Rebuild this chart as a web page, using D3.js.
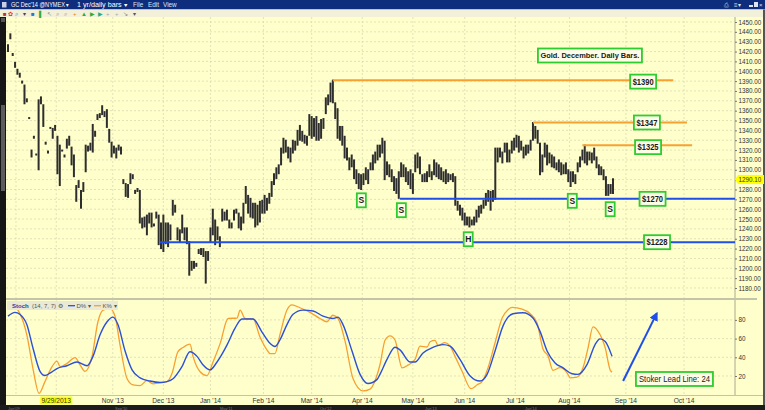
<!DOCTYPE html>
<html><head><meta charset="utf-8">
<script src="https://cdn.jsdelivr.net/npm/d3@7/dist/d3.min.js"></script>
<style>body{margin:0;background:#fff;} svg{display:block;font-family:"Liberation Sans",Arial,sans-serif;}</style>
</head><body><svg id="c" width="765" height="410"></svg>
<script>
// ---------------- DATA ----------------
const highs=[1427,1438,1418,1409,1402,1398,1390,1386,1372,1353,
1320,1334,1316,1371,1374,1366,1328,1319,1343,1342,
1345,1334,1325,1320,1315,1331,1334,1323,1315,1284,
1289,1279,1287,1325,1324,1327,1346,1339,1356,1357,
1365,1359,1361,1341,1328,1324,1322,1325,1323,1290,
1286,
1285,1296,1295,1279,1281,1279,1251,1252,1254,1256,
1256,1245,1257,1254,1246,1254,1246,1246,1244,1269,
1264,1241,1239,1254,1241,1241,1227,1207,1207,1205,
1219,1220,1220,1217,1217,1241,1260,1249,1242,1232,
1260,1257,1259,1249,1246,1259,1260,1256,1252,1266,
1283,1274,1271,1266,1266,1264,1268,1269,1274,1271,
1276,1288,1296,1302,1305,1322,1332,1330,1323,1322,
1330,1329,1340,1345,1339,1335,1334,1356,1354,1352,
1354,1347,1351,1352,1373,1376,1388,1391,1368,1362,
1344,1344,1334,1322,1312,1315,1310,1300,1296,1295,
1296,1302,1300,1307,1315,
1318,1325,1325,1332,1329,1308,1305,1300,1293,1291,
1298,1307,1305,1302,1298,1300,1296,1315,1317,1313,
1295,1296,1298,1305,1298,1310,1307,1305,1302,1298,
1300,1296,1295,1296,1293,1268,1264,1261,1256,1252,
1252,1249,1252,1259,1263,1264,1269,1276,1279,1278,
1279,1322,
1322,1322,1318,1327,1327,1320,1329,1332,1335,1334,
1329,1323,1325,1325,1330,1348,1344,1340,1327,1315,
1327,1325,1317,1315,1313,1307,1310,1307,1305,1307,
1300,1298,1298,1295,1307,1313,1320,1325,1318,1318,
1317,1322,1313,1305,1303,1300,1293,1285,1285,1291];
const lows=[1420,1433,1416,1404,1397,1394,1388,1367,1369,1352,
1313,1332,1315,1300,1367,1344,1326,1317,1342,1332,
1340,1296,1284,1319,1313,1322,1325,1305,1293,1268,
1282,1261,1278,1298,1319,1320,1318,1334,1351,1353,
1356,1354,1343,1328,1313,1317,1312,1320,1316,1286,
1273,
1272,1286,1291,1276,1278,1246,1241,1242,1234,1246,
1242,1243,1251,1224,1220,1217,1225,1222,1229,1254,
1257,1229,1227,1236,1229,1225,1193,1198,1200,1202,
1215,1214,1212,1185,1208,1227,1234,1224,1229,1222,
1248,1249,1249,1241,1241,1249,1256,1241,1239,1246,
1266,1256,1252,1251,1242,1244,1247,1256,1256,1259,
1266,1273,1285,1291,1296,1305,1317,1318,1312,1308,
1317,1320,1325,1330,1329,1327,1325,1335,1332,1334,
1330,1330,1332,1342,1357,1366,1369,1368,1352,1332,
1330,1325,1312,1310,1300,1303,1291,1286,1281,1280,
1285,1290,1286,1300,1300,
1307,1310,1313,1317,1290,1295,1293,1288,1279,1276,
1271,1293,1293,1288,1285,1281,1276,1298,1302,1296,
1288,1288,1288,1293,1290,1295,1293,1291,1290,1288,
1286,1288,1290,1288,1264,1259,1254,1249,1244,1244,
1242,1244,1244,1247,1252,1256,1261,1264,1268,1259,
1268,1270,
1308,1313,1307,1318,1308,1308,1317,1320,1323,1318,
1320,1312,1315,1317,1320,1330,1332,1327,1295,1298,
1313,1305,1307,1303,1302,1300,1298,1295,1296,1296,
1288,1283,1288,1286,1298,1303,1310,1307,1305,1310,
1307,1310,1302,1295,1295,1290,1274,1274,1276,1276];
const lastClose=1290.10;

const priceTicks=d3.range(1180,1451,10);
const monthIdx=[20.5,44.5,66,86,108.5,129,150.5,172,194,215.5,238.5,262.5,287.2];
const monthLabels=["9/29/2013","Nov '13","Dec '13","Jan '14","Feb '14","Mar '14","Apr '14","May '14","Jun '14","Jul '14","Aug '14","Sep '14","Oct '14"];

// Stochastic (14,7,7): bar position and value
const dIdx=[0,3,5,8,10.6,13.6,15.7,17.8,20.8,25,29.3,33.6,36.1,39.1,42.1,44.6,46.7,49.7,52.7,56.1,60.3,64.6,67.5,70.1,73.9,77.3,80.3,82.8,85.8,88.8,93,96.4,99.4,104.1,107.9,111.3,113.4,115.5,118.5,121.1,125.3,129.6,133.8,138,140.2,142.3,146.1,149.5,152.9,156.8,158,161,164.4,166.5,170.8,172.9,176.3,180.5,184.8,187.8,192,196.3,200.5,203.5,206.9,210.3,214.5,218.8,223,226,229,232.4,235.8,239.6,242.1,246,249.4,251.5,253.7,256.6];
const dVal=[84,88,86,75,50,25,20.5,23,28,31,35,31,41,64,78,83,75,47,26.5,18,14.6,13,14,17,30,46,41,32,26.5,35,53,71,81,81,67,55,51.5,58.5,75,86,90.5,89.5,84,81.5,83,75,47,22,12,16.4,21.7,37.7,50.7,48,35,35,44.6,50.7,53.6,52,37.7,20,14.6,21.7,46.8,73.6,86.6,87.7,82,67.7,46.8,34,28.7,22.4,21.7,32.4,53.6,59.7,57,41];
const kIdx=[0,3,5,8,10.6,13.2,15.7,18.7,20.8,22.1,25.1,28.5,30.6,32.7,35.7,38.2,40.4,43.3,45.5,47.6,50.6,53.1,56.1,59,61.6,64.6,67.5,69.7,72.2,74.3,77.3,78.6,81.6,84.5,87.1,90.1,93.5,97.3,98.6,100.7,104.1,107,110,111.3,113.4,115.5,118.5,120.6,124,128.3,132.5,135.5,138,140.2,143.2,146.6,150.8,153.8,157.2,158,160.2,162.3,164.4,167.4,169.9,172.9,175,178,179.3,181.4,182.7,185.6,187.8,189.9,192.9,196.7,199.3,201.4,203.9,206.9,209.9,212.4,214.1,218.4,221.8,224.7,227.3,229.4,231.5,234.5,237.5,238.8,241.7,244.3,246.4,248.5,250.6,253.7,255.8,256.6];
const kVal=[94,93,87,64,28,1.5,14,30,36,30,33.5,39.6,32,25,41,78,90.5,92,83.7,53,17,10.5,9.8,15,11.5,13,14,23,46,50.4,54,41,24.6,20.5,35,54.6,81.5,82,90.5,81.5,81,62,48,44,44,64,90.5,96,93,88,81.5,78,85,81.5,57,17,4,6,24.6,32,58.5,63,58.5,28.7,31.6,37.7,52,51,56.6,58,52.7,55.6,52,41,25,6.4,10.6,14,28.7,55.6,82,90.8,93.3,91.5,86.6,77,48.6,41.5,26.1,29,23.4,18,18.8,29,50,72.5,68,50,26.5,24];
const stochTicks=[20,40,60,80];

// Annotation levels
const resLevels=[1391,1348,1325];           // orange resistance lines
const resFrom=[138,223,244], resTo=[282.6,288.4,290.6];
const resLabels=["$1390","$1347","$1325"], resLabelIdx=[269.8,271.4,271.9];
const supLevels=[1270.5,1226.5];            // blue support lines
const supFrom=[166.5,64.6];
const supLabels=["$1270","$1228"], supLabelIdx=[273.8,275.7];
const markLabels=["S","S","H","S","S"];
const markIdx=[150.1,167.1,195.5,239.7,255.8];
const markPrice=[1269,1259,1229.5,1268.5,1260];

// ---------------- DRAW ----------------
const W=765,H=410;
const svg=d3.select('#c');
const x=d3.scaleLinear().domain([0,highs.length-1]).range([8,613]);
const y=d3.scaleLinear().domain([1180,1450]).range([288,22]);
const ys=d3.scaleLinear().domain([0,100]).range([394.7,301.2]);
const BG='#FFFFCC', GRID='#d6d6b0';
const PL=6, PR=735;

svg.append('rect').attr('width',W).attr('height',H).attr('fill',BG);

const defs=svg.append('defs');
defs.append('clipPath').attr('id','cp').append('rect').attr('x',PL).attr('y',17).attr('width',PR-PL).attr('height',281);
defs.append('clipPath').attr('id','cs').append('rect').attr('x',PL).attr('y',300).attr('width',PR-PL).attr('height',95);
defs.append('marker').attr('id','ah').attr('viewBox','0 0 10 10').attr('refX',8).attr('refY',5)
  .attr('markerWidth',4.5).attr('markerHeight',4.5).attr('orient','auto')
  .append('path').attr('d','M0,0L10,5L0,10z').attr('fill','#1f4fe8');

// ---- title bar ----
svg.append('rect').attr('x',0).attr('y',0).attr('width',W).attr('height',9.5).attr('fill','#0e2d7c');
svg.append('rect').attr('x',2).attr('y',2).attr('width',4.5).attr('height',5.5).attr('fill','#c8d0e8');
const tb=svg.append('g').attr('fill','#fff').attr('font-size',6.4);
tb.append('text').attr('x',11).attr('y',7.4).attr('textLength',58).attr('lengthAdjust','spacingAndGlyphs').text("GC Dec'14 @NYMEX \u25BE");
tb.append('text').attr('x',77).attr('y',7.4).attr('textLength',50).attr('lengthAdjust','spacingAndGlyphs').text("1 yr/daily bars \u25BE");
[["File",133],["Edit",148],["View",163]].forEach(d=>tb.append('text').attr('x',d[1]).attr('y',7.4).attr('fill','#dfe4f2').text(d[0]));
const ri=svg.append('g').attr('fill','#dfe4f2').attr('font-size',6);
ri.append('text').attr('x',724).attr('y',7).text('\u2399');
ri.append('text').attr('x',734).attr('y',7).text('\u2261\u25BE');
ri.append('rect').attr('x',749).attr('y',5).attr('width',4).attr('height',2);
ri.append('rect').attr('x',754).attr('y',2).attr('width',4).attr('height',5);
ri.append('text').attr('x',759).attr('y',7).text('\u00D7');

// ---- toolbar ----
svg.append('rect').attr('x',0).attr('y',9.5).attr('width',W).attr('height',7.5).attr('fill','#f2f0d8');
const tools=[[3,'\u25A0','#b33'],[8,'\u273F','#d33'],[15,'\u2315','#36c'],[23,'\u25BE','#444'],[31,'\u25A0','#27c'],[39,'\u258C','#3a3'],[47,'\u2196','#888'],[56,'\u2315','#888'],[64,'\u2315','#888'],[73,'+','#e80'],[81,'\u25B2','#3a3'],[90,'\u25B6','#3a3'],[98,'\u25B6','#2a8'],[106,'+','#aaa'],[115,'+','#aaa'],[123,'\u2198','#777'],[133,'\u25BE','#555']];
svg.append('g').attr('font-size',6).selectAll('text').data(tools).join('text')
  .attr('x',d=>d[0]).attr('y',15.6).attr('fill',d=>d[2]).text(d=>d[1]);

// ---- left scroll strip / right border / bottom strip ----
svg.append('rect').attr('x',0).attr('y',17).attr('width',6).attr('height',388).attr('fill','#161616');
svg.append('rect').attr('x',1).attr('y',18).attr('width',4).attr('height',4).attr('fill','#555');
svg.append('rect').attr('x',1).attr('y',105).attr('width',4).attr('height',86).attr('fill','#5c5c5c');
svg.append('rect').attr('x',763).attr('y',9.5).attr('width',2).attr('height',400).attr('fill','#555');
svg.append('rect').attr('x',0).attr('y',405).attr('width',W).attr('height',5).attr('fill','#1c1c1c');
svg.append('g').attr('font-size',4).attr('fill','#777').selectAll('text')
  .data([["Jan'09",8],["Sep'10",115],["May'11",220],["Oct'12",320],["Jun'13",425],["Jan'14",525]]).join('text')
  .attr('x',d=>d[1]).attr('y',409.5).text(d=>d[0]);

// ---- panel separators ----
svg.append('line').attr('x1',PR).attr('x2',PR).attr('y1',17).attr('y2',395).attr('stroke','#a8a890');
svg.append('rect').attr('x',PL).attr('y',298).attr('width',757-PL).attr('height',2).attr('fill','#c4c4a8');
svg.append('line').attr('x1',PL).attr('x2',763).attr('y1',395.5).attr('y2',395.5).attr('stroke','#c4c4a8');

// ---- grids ----
const gp=svg.append('g').attr('clip-path','url(#cp)');
gp.selectAll('line.h').data(priceTicks).join('line').attr('class','h')
  .attr('x1',PL).attr('x2',PR).attr('y1',d=>y(d)).attr('y2',d=>y(d))
  .attr('stroke',GRID).attr('stroke-width',0.7).attr('stroke-dasharray','2,2');
const vgrid=[3.4].concat(monthIdx);
gp.selectAll('line.v').data(vgrid).join('line').attr('class','v')
  .attr('x1',d=>x(d)).attr('x2',d=>x(d)).attr('y1',17).attr('y2',298)
  .attr('stroke',GRID).attr('stroke-width',0.7).attr('stroke-dasharray','2,2');
const gs=svg.append('g').attr('clip-path','url(#cs)');
gs.selectAll('line.h').data(stochTicks).join('line').attr('class','h')
  .attr('x1',PL).attr('x2',PR).attr('y1',d=>ys(d)).attr('y2',d=>ys(d))
  .attr('stroke',GRID).attr('stroke-width',0.7).attr('stroke-dasharray','2,2');
gs.selectAll('line.v').data(vgrid).join('line').attr('class','v')
  .attr('x1',d=>x(d)).attr('x2',d=>x(d)).attr('y1',300).attr('y2',395)
  .attr('stroke',GRID).attr('stroke-width',0.7).attr('stroke-dasharray','2,2');

// ---- price bars ----
gp.append('g').selectAll('line').data(highs).join('line')
  .attr('x1',(d,i)=>x(i)).attr('x2',(d,i)=>x(i))
  .attr('y1',d=>y(d)-0.5).attr('y2',(d,i)=>y(lows[i])+0.5)
  .attr('stroke','#2e2e2e').attr('stroke-width',2);

// ---- resistance / support lines ----
gp.selectAll('line.res').data(resLevels).join('line').attr('class','res')
  .attr('x1',(d,i)=>x(resFrom[i])).attr('x2',(d,i)=>x(resTo[i]))
  .attr('y1',d=>y(d)).attr('y2',d=>y(d)).attr('stroke','#f8a030').attr('stroke-width',2);
gp.selectAll('line.sup').data(supLevels).join('line').attr('class','sup')
  .attr('x1',(d,i)=>x(supFrom[i])).attr('x2',PR)
  .attr('y1',d=>y(d)).attr('y2',d=>y(d)).attr('stroke','#1f4fe8').attr('stroke-width',2);

// ---- boxes ----
function box(g,cx,cy,w,h,txt,fs,bold,tl){
  const gg=g.append('g');
  gg.append('rect').attr('x',cx-w/2).attr('y',cy-h/2).attr('width',w).attr('height',h)
    .attr('fill','#fdfde6').attr('stroke','#2ecc2e').attr('stroke-width',1.8);
  const t=gg.append('text').attr('x',cx).attr('y',cy+fs*0.36).attr('text-anchor','middle')
    .attr('font-size',fs).attr('font-weight',bold?'bold':'normal').attr('fill','#1a1a1a').text(txt);
  if(tl) t.attr('textLength',tl).attr('lengthAdjust','spacingAndGlyphs');
}
const ann=svg.append('g');
resLabels.forEach((t,i)=>box(ann,x(resLabelIdx[i]),y(resLevels[i])+(i==0?1.5:i==2?2:0),26,14,t,8.5,true,21));
supLabels.forEach((t,i)=>box(ann,x(supLabelIdx[i]),y(supLevels[i]),26,14,t,8.5,true,21));
markLabels.forEach((t,i)=>box(ann,x(markIdx[i]),y(markPrice[i]),9,14,t,8.5,true));
box(ann,x(247.2),y(1416),104,14,"Gold. December. Daily Bars.",7.6,true,99);

// ---- price axis ----
const pa=svg.append('g').attr('transform',`translate(${PR},0)`)
  .call(d3.axisRight(y).tickValues(priceTicks).tickSize(2).tickPadding(1.5).tickFormat(d3.format('.2f')));
pa.select('.domain').remove();
pa.selectAll('text').attr('font-size',6.3).attr('fill','#333').attr('font-family','Liberation Sans, Arial');
pa.selectAll('line').attr('stroke','#777');
const cy0=y(lastClose);
svg.append('path').attr('d',`M${PR},${cy0}L${PR+3},${cy0-4.5}H${PR+29}V${cy0+4.5}H${PR+3}Z`).attr('fill','#ffff00');
svg.append('text').attr('x',PR+3.5).attr('y',cy0+2.3).attr('font-size',6.3).attr('fill','#333').text(d3.format('.2f')(lastClose));

// ---- stochastic ----
const sa=svg.append('g').attr('transform',`translate(${PR},0)`)
  .call(d3.axisRight(ys).tickValues(stochTicks).tickSize(2).tickPadding(1.5));
sa.select('.domain').remove();
sa.selectAll('text').attr('font-size',6.3).attr('fill','#333');
sa.selectAll('line').attr('stroke','#777');

const kLine=d3.line().x(d=>x(d[0])).y(d=>ys(d[1])).curve(d3.curveMonotoneX);
gs.append('path').attr('d',kLine(kIdx.map((d,i)=>[d,kVal[i]]))).attr('fill','none').attr('stroke','#f7a030').attr('stroke-width',1.3);
gs.append('path').attr('d',kLine(dIdx.map((d,i)=>[d,dVal[i]]))).attr('fill','none').attr('stroke','#2a50d8').attr('stroke-width',1.4);

// legend
const lg=svg.append('g');
lg.append('rect').attr('x',PL+1).attr('y',301).attr('width',111).attr('height',9).attr('fill','#e9e9d6');
lg.append('text').attr('x',12).attr('y',308).attr('font-size',6).attr('font-weight','bold').attr('fill','#2a3f9a').text('Stoch');
lg.append('text').attr('x',32).attr('y',308).attr('font-size',6).attr('fill','#555').text('(14, 7, 7) \u2699');
lg.append('line').attr('x1',68).attr('x2',75).attr('y1',305.7).attr('y2',305.7).attr('stroke','#2a50d8').attr('stroke-width',1.3);
lg.append('text').attr('x',76.5).attr('y',308).attr('font-size',6).attr('fill','#555').text('D% \u25BE');
lg.append('line').attr('x1',94).attr('x2',101).attr('y1',305.7).attr('y2',305.7).attr('stroke','#f7a030').attr('stroke-width',1.3);
lg.append('text').attr('x',102.5).attr('y',308).attr('font-size',6).attr('fill','#555').text('K% \u25BE');

// arrow + box
svg.append('line').attr('x1',x(261.3)).attr('y1',ys(14.7)).attr('x2',x(275.6)).attr('y2',ys(87))
  .attr('stroke','#1f4fe8').attr('stroke-width',2).attr('marker-end','url(#ah)');
box(ann,x(283.1),ys(16.8),77,14,"Stoker Lead Line: 24",8.3,false,71);

// ---- time labels ----
const tl=svg.append('g').attr('font-size',6.6).attr('fill','#333');
tl.append('rect').attr('x',x(monthIdx[0])-16).attr('y',396.5).attr('width',32).attr('height',8).attr('fill','#ffff00');
tl.selectAll('text').data(monthIdx).join('text').attr('x',d=>x(d)).attr('y',403)
  .attr('text-anchor','middle').text((d,i)=>monthLabels[i]);
</script></body></html>
